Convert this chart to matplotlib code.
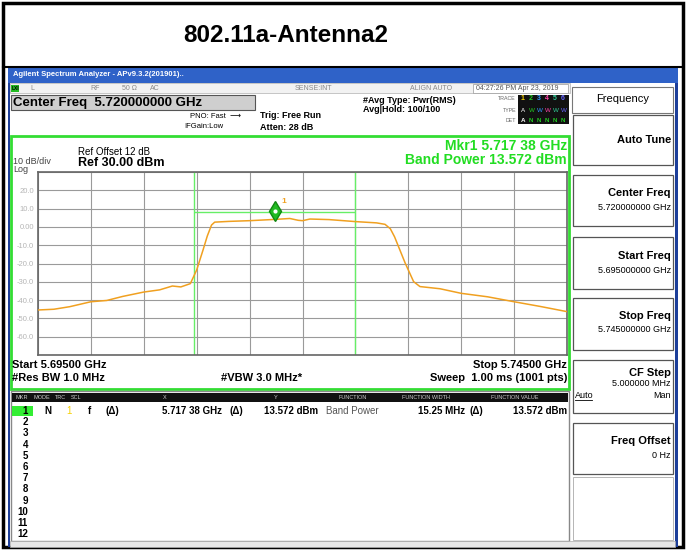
import matplotlib
matplotlib.use("Agg")
import matplotlib.pyplot as plt
from matplotlib.patches import Rectangle
from matplotlib.transforms import offset_copy

plt.rcParams['font.family'] = ['Liberation Sans', 'DejaVu Sans']

# --- trace data (GHz, dBm) ---
trace_freq = [5.6950, 5.6965, 5.6980, 5.7000, 5.7015, 5.7030, 5.7050, 5.7065,
              5.7077, 5.7085, 5.7094, 5.7100, 5.7106, 5.7110, 5.7114, 5.7117,
              5.7130, 5.7150, 5.7174, 5.7188, 5.7196, 5.7200, 5.7207, 5.7225,
              5.7250, 5.7270, 5.7278, 5.7283, 5.7287, 5.7297, 5.7305, 5.7311,
              5.7330, 5.7350, 5.7375, 5.7400, 5.7425, 5.7450]
trace_level = [-45.4, -45.0, -43.6, -40.9, -40.2, -38.0, -35.6, -34.4,
               -32.3, -32.8, -31.0, -23.5, -12.6, -5.0, 1.0, 2.6,
               3.0, 3.4, 4.1, 4.6, 3.6, 3.4, 4.3, 4.0,
               2.9, 2.2, 1.4, -1.0, -5.4, -19.7, -29.9, -32.6,
               -33.8, -36.3, -38.2, -40.9, -43.5, -46.3]

start_ghz, stop_ghz = 5.695, 5.745
ref_level, db_div = 30, 10
marker_freq, marker_level = 5.71738, 4.1
band_lo, band_hi = 5.709755, 5.725005
band_level = 8.3
ytick_labels = ['', '20.0', '10.0', '0.00', '-10.0', '-20.0', '-30.0',
                '-40.0', '-50.0', '-60.0', '']

W, H = 686, 550
fig = plt.figure(figsize=(W / 100, H / 100), dpi=100)


def fx(x):
    return x / W


def fy(y):
    return 1 - y / H


def txt(x, y, s, **kw):
    kw.setdefault('va', 'center')
    fig.text(fx(x), fy(y), s, **kw)


def box(x0, y0, x1, y1, **kw):
    fig.add_artist(Rectangle((fx(x0), fy(y1)), fx(x1 - x0), (y1 - y0) / H,
                             transform=fig.transFigure, **kw))


# outer frame and title
box(3, 3, 683, 547, fill=False, ec='black', lw=2.5)
fig.add_artist(plt.Line2D([fx(3), fx(683)], [fy(67), fy(67)], color='black', lw=1.5))
txt(286, 36, '802.11a-Antenna2', ha='center', fontsize=17.5, fontweight='bold')

# analyzer window
box(8, 67, 678, 83, fc='#2f62c8', ec='none')
txt(13, 75, 'Agilent Spectrum Analyzer - APv9.3.2(201901)..', color='white',
    fontsize=5.5, fontweight='bold')
box(8, 83, 10, 547, fc='#1d3f9a', ec='none')
box(675, 83, 678, 547, fc='#1d3f9a', ec='none')
box(10, 83, 570, 93, fc='#f2f2f2', ec='#bdbdbd', lw=0.6)
box(11, 85, 19, 92, fc='#22bb22', ec='none')
txt(12, 88.5, 'LXI', fontsize=3.5, fontweight='bold')
for xs, s in [(30, 'L'), (90, 'RF'), (122, '50 Ω'), (150, 'AC'),
              (295, 'SENSE:INT'), (410, 'ALIGN AUTO')]:
    txt(xs, 88.5, s, fontsize=5, color='#888888')
box(473, 84, 568, 93, fc='white', ec='#999999', lw=0.5)
txt(476, 88.5, '04:27:26 PM Apr 23, 2019', fontsize=5, color='#555555')

box(11, 95, 255, 110, fc='#cfcfcf', ec='#555555', lw=0.8)
txt(13, 103, 'Center Freq  5.720000000 GHz', fontsize=9.5, fontweight='bold')
txt(190, 116, 'PNO: Fast  ⟶', fontsize=5.5)
txt(184, 127, 'IFGain:Low', fontsize=5.5)
txt(260, 116, 'Trig: Free Run', fontsize=6.5, fontweight='bold')
txt(260, 127, 'Atten: 28 dB', fontsize=6.5, fontweight='bold')
txt(363, 100, '#Avg Type: Pwr(RMS)', fontsize=6.5, fontweight='bold')
txt(363, 110, 'Avg|Hold: 100/100', fontsize=6.5, fontweight='bold')
txt(516, 99, 'TRACE', fontsize=3.8, ha='right', color='#666666')
txt(516, 110, 'TYPE', fontsize=3.8, ha='right', color='#666666')
txt(516, 120, 'DET', fontsize=3.8, ha='right', color='#666666')
box(518, 95, 569, 124, fc='#111111', ec='none')
for i, c in enumerate(['#f5d000', '#22cc22', '#3399ff', '#ff44aa', '#33cc99', '#6666ff']):
    txt(521 + i * 8, 99, str(i + 1), fontsize=5, color=c, fontweight='bold')
    txt(521 + i * 8, 110, 'A' if i == 0 else 'W', fontsize=4.5, color='white' if i == 0 else c)
    txt(521 + i * 8, 120, 'A' if i == 0 else 'N', fontsize=4.5, color='white' if i == 0 else '#22cc22',
        fontweight='bold')

# green screen frame
box(11, 136, 569, 389, fill=False, ec='#33dd33', lw=2)
txt(13, 161, '10 dB/div', fontsize=6.5, color='#444444')
txt(13, 170, 'Log', fontsize=6.5, color='#444444')
txt(78, 152, 'Ref Offset 12 dB', fontsize=7)
txt(78, 163, 'Ref 30.00 dBm', fontsize=9, fontweight='bold')
txt(567, 146, 'Mkr1 5.717 38 GHz', ha='right', fontsize=10, fontweight='bold', color='#22dd22')
txt(567, 160, 'Band Power 13.572 dBm', ha='right', fontsize=10, fontweight='bold', color='#22dd22')

# spectrum graticule
ax = fig.add_axes([fx(38), fy(355), fx(567) - fx(38), (355 - 172) / H])
ax.plot(trace_freq, trace_level, color='#f0a020', lw=1.1, zorder=3)
ax.axvline(band_lo, color='#66ee66', lw=1, zorder=2)
ax.axvline(band_hi, color='#66ee66', lw=1, zorder=2)
ax.hlines(band_level, band_lo, band_hi, color='#66ee66', lw=1, zorder=2)
up = offset_copy(ax.transData, fig=fig, x=0, y=6, units='points')
ax.plot([marker_freq], [marker_level], marker='d', ms=10, color='#22bb22', mec='#118811',
        transform=up, zorder=4)
ax.plot([marker_freq], [marker_level], marker='o', ms=3, color='white', mec='none',
        transform=up, zorder=5)
ax.annotate('1', (marker_freq, marker_level), xytext=(5, 12), textcoords='offset points',
            color='#f0a020', fontsize=6, fontweight='bold')
ax.set_xlim(start_ghz, stop_ghz)
ax.set_ylim(ref_level - 10 * db_div, ref_level)
ax.set_xticks([start_ghz + i * (stop_ghz - start_ghz) / 10 for i in range(11)])
ax.set_yticks([ref_level - i * db_div for i in range(11)])
ax.set_yticklabels(ytick_labels, fontsize=5.5, color='#b5b5b5')
ax.set_xticklabels([])
ax.tick_params(length=0, pad=3)
ax.grid(True, color='#9a9a9a', lw=0.8)
for sp in ax.spines.values():
    sp.set_color('#666666')
    sp.set_linewidth(1.2)

txt(12, 365, 'Start 5.69500 GHz', fontsize=8, fontweight='bold')
txt(12, 378, '#Res BW 1.0 MHz', fontsize=8, fontweight='bold')
txt(262, 378, '#VBW 3.0 MHz*', ha='center', fontsize=8, fontweight='bold')
txt(567, 365, 'Stop 5.74500 GHz', ha='right', fontsize=8, fontweight='bold')
txt(567, 378, 'Sweep  1.00 ms (1001 pts)', ha='right', fontsize=8, fontweight='bold')

# marker table
box(11, 391, 569, 541, fc='white', ec='#888888', lw=1)
box(12, 393, 568, 402, fc='#111111', ec='none')
for xs, s in [(22, 'MKR'), (42, 'MODE'), (60, 'TRC'), (76, 'SCL'), (165, 'X'), (276, 'Y'),
              (353, 'FUNCTION'), (426, 'FUNCTION WIDTH'), (515, 'FUNCTION VALUE')]:
    txt(xs, 397.5, s, ha='center', fontsize=4, color='#cccccc')
box(12, 406, 33, 416, fc='#33ee33', ec='none')
txt(28, 411, '1', ha='right', fontsize=7, fontweight='bold')
txt(44, 411, 'N', fontsize=7, fontweight='bold')
txt(66, 411, '1', fontsize=7, color='#f5d000')
txt(88, 411, 'f', fontsize=7, fontweight='bold')
txt(106, 411, '(Δ)', fontsize=7, fontweight='bold')
txt(222, 411, '5.717 38 GHz', ha='right', fontsize=7, fontweight='bold')
txt(230, 411, '(Δ)', fontsize=7, fontweight='bold')
txt(318, 411, '13.572 dBm', ha='right', fontsize=7, fontweight='bold')
txt(326, 411, 'Band Power', fontsize=7, color='#555555')
txt(465, 411, '15.25 MHz', ha='right', fontsize=7, fontweight='bold')
txt(470, 411, '(Δ)', fontsize=7, fontweight='bold')
txt(567, 411, '13.572 dBm', ha='right', fontsize=7, fontweight='bold')
for i in range(2, 13):
    txt(28, 411 + (i - 1) * 11.2, str(i), ha='right', fontsize=7, fontweight='bold')
box(10, 541, 675, 547, fc='#e6e6e6', ec='#aaaaaa', lw=0.5)

# softkey panel: (top, bottom, label, label y, [(value, value y)])
box(572, 87, 673, 113, fc='white', ec='#777777', lw=0.8)
txt(623, 99, 'Frequency', ha='center', fontsize=8)
keys = [(115, 165, 'Auto Tune', 140, []),
        (175, 226, 'Center Freq', 193, [('5.720000000 GHz', 207)]),
        (237, 289, 'Start Freq', 256, [('5.695000000 GHz', 270)]),
        (298, 350, 'Stop Freq', 316, [('5.745000000 GHz', 330)]),
        (360, 413, 'CF Step', 373, [('5.000000 MHz', 384)]),
        (423, 474, 'Freq Offset', 441, [('0 Hz', 455)])]
for y0, y1, lab, ly, vals in keys:
    box(573, y0, 673, y1, fc='white', ec='#555555', lw=0.9)
    txt(671, ly, lab, ha='right', fontsize=8, fontweight='bold')
    for v, vy in vals:
        txt(671, vy, v, ha='right', fontsize=6.5)
txt(575, 395, 'Auto', fontsize=6.5)
fig.add_artist(plt.Line2D([fx(575), fx(592)], [fy(400), fy(400)], color='black', lw=0.6))
txt(671, 395, 'Man', ha='right', fontsize=6.5)
box(573, 477, 673, 540, fc='white', ec='#aaaaaa', lw=0.6)

fig.savefig('out.png', dpi=100)
